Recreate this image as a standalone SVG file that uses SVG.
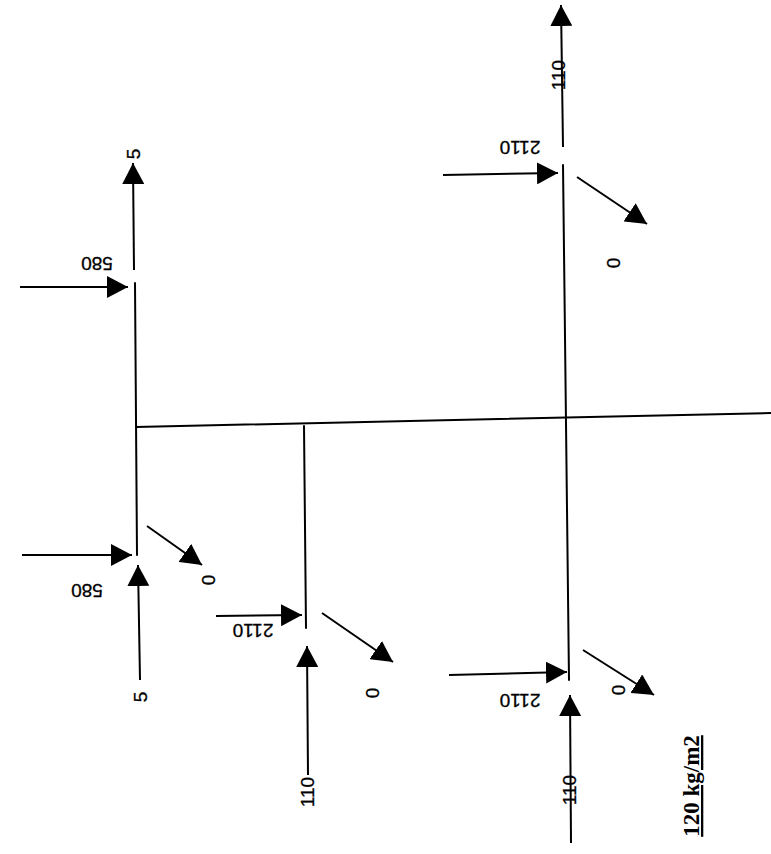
<svg xmlns="http://www.w3.org/2000/svg" width="771" height="854" viewBox="0 0 771 854">
<style>
.ln{stroke:#000;stroke-width:2;fill:none;stroke-linecap:round}
.ar{stroke:#000;stroke-width:2;fill:none;marker-end:url(#ah)}
.lb{font-family:"Liberation Sans",Arial,sans-serif;font-size:19px;fill:#000;stroke:#000;stroke-width:0.3;text-anchor:middle;dominant-baseline:central}
.unit{font-family:"Liberation Serif","Times New Roman",serif;font-size:23px;font-weight:bold;fill:#000;text-anchor:middle;text-decoration:underline}
</style>
<defs>
<marker id="ah" viewBox="0 0 21 22" refX="21" refY="11" markerWidth="21" markerHeight="22" markerUnits="userSpaceOnUse" orient="auto">
<path d="M0,0 L21,11 L0,22 z" fill="#000"/>
</marker>
</defs>
<rect width="771" height="854" fill="#fff"/>
<g id="connectors">
<line class="ln" x1="136" y1="427" x2="771" y2="413"/>
<line class="ar" x1="134" y1="270" x2="133" y2="163"/>
<line class="ln" x1="135" y1="283" x2="137" y2="555"/>
<line class="ar" x1="20" y1="287" x2="128" y2="287"/>
<line class="ar" x1="22" y1="555" x2="132" y2="555"/>
<line class="ar" x1="140" y1="680" x2="138" y2="565"/>
<line class="ar" x1="147" y1="526" x2="202" y2="565"/>
<line class="ln" x1="304" y1="426" x2="306" y2="628"/>
<line class="ar" x1="216" y1="616" x2="302" y2="615"/>
<line class="ar" x1="308" y1="775" x2="307" y2="646"/>
<line class="ar" x1="322" y1="613" x2="393" y2="662"/>
<line class="ar" x1="563" y1="147" x2="561" y2="5"/>
<line class="ln" x1="563" y1="165" x2="569" y2="680"/>
<line class="ar" x1="443" y1="175" x2="558" y2="173"/>
<line class="ar" x1="577" y1="177" x2="647" y2="224"/>
<line class="ar" x1="449" y1="675" x2="567" y2="672"/>
<line class="ar" x1="571" y1="843" x2="570" y2="695"/>
<line class="ar" x1="583" y1="650" x2="654" y2="695"/>
</g>
<g id="node-left-top">
<text class="lb" transform="translate(133,154) rotate(-90)">5</text>
<text class="lb" transform="translate(97,263) rotate(180)">580</text>
</g>
<g id="node-left-bottom">
<text class="lb" transform="translate(87,590) rotate(180)">580</text>
<text class="lb" transform="translate(208,580) rotate(-90)">0</text>
<text class="lb" transform="translate(140,697) rotate(-90)">5</text>
</g>
<g id="node-middle">
<text class="lb" transform="translate(253,630) rotate(180)">2110</text>
<text class="lb" transform="translate(372,693) rotate(-90)">0</text>
<text class="lb" transform="translate(307,792) rotate(-90)">110</text>
</g>
<g id="node-right-top">
<text class="lb" transform="translate(558,75) rotate(-90)">110</text>
<text class="lb" transform="translate(520,147) rotate(180)">2110</text>
<text class="lb" transform="translate(613,263) rotate(-90)">0</text>
</g>
<g id="node-right-bottom">
<text class="lb" transform="translate(520,700) rotate(180)">2110</text>
<text class="lb" transform="translate(618,690) rotate(-90)">0</text>
<text class="lb" transform="translate(569,790) rotate(-90)">110</text>
</g>
<g id="legend">
<text class="unit" transform="translate(699,786) rotate(-90)">120 kg/m2</text>
</g>
</svg>
